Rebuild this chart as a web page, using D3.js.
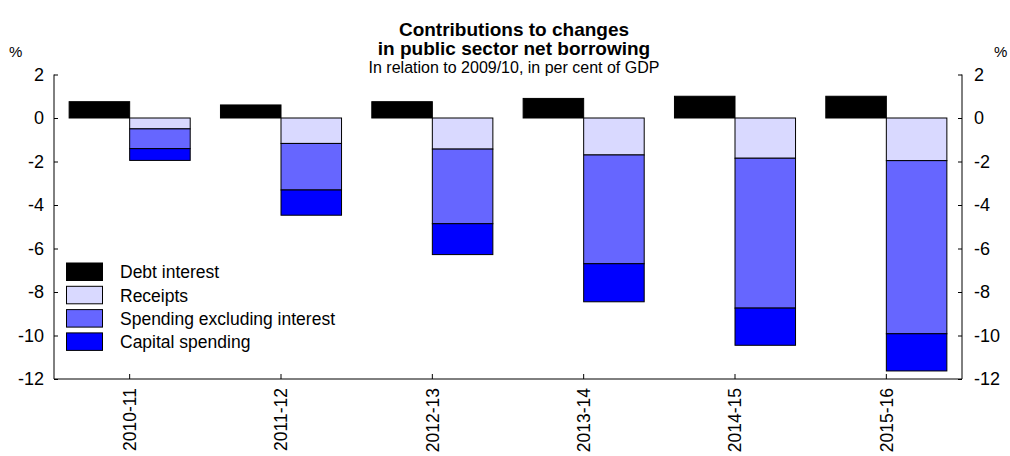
<!DOCTYPE html>
<html><head><meta charset="utf-8">
<script src="https://cdn.jsdelivr.net/npm/d3@7"></script>
<style>body{margin:0;background:#fff}svg{display:block;font-family:"Liberation Sans",Arial,sans-serif}</style>
</head><body><svg id="c" width="1010" height="456"></svg>
<script>
const categories = ["2010-11","2011-12","2012-13","2013-14","2014-15","2015-16"];
const debtInterest = [0.75, 0.6, 0.75, 0.9, 1.0, 1.0];
const receipts = [-0.5, -1.17, -1.43, -1.7, -1.85, -1.96];
const spendingExInterest = [-0.91, -2.14, -3.43, -5.0, -6.89, -7.96];
const capitalSpending = [-0.54, -1.16, -1.42, -1.75, -1.71, -1.71];
const yTicks = [2, 0, -2, -4, -6, -8, -10, -12];
const seriesNames = ["Debt interest","Receipts","Spending excluding interest","Capital spending"];
const colors = ["#000000","#d9d9ff","#6666ff","#0000ff"];

const svg = d3.select("#c");
const L = 54, R = 962, T = 74.5, B = 379;
const x = d3.scaleBand().domain(categories).range([L, R]).paddingInner(0).paddingOuter(0);
const y = d3.scaleLinear().domain([-12, 2]).range([B, T]);
const bw = x.bandwidth() * 0.4;

// Debt interest bars
svg.append("g").selectAll("rect").data(categories).join("rect")
  .attr("x", d => x(d) + x.bandwidth()/2 - bw)
  .attr("width", bw)
  .attr("y", (d,i) => y(Math.max(0, debtInterest[i])))
  .attr("height", (d,i) => Math.abs(y(debtInterest[i]) - y(0)))
  .attr("fill", colors[0]).attr("stroke", "#000").attr("stroke-width", 1);

// stacked negative bars
const stackSeries = [receipts, spendingExInterest, capitalSpending];
const sg = svg.append("g");
categories.forEach((c, i) => {
  let base = 0;
  stackSeries.forEach((s, k) => {
    const top = base, bot = base + s[i];
    sg.append("rect")
      .attr("x", x(c) + x.bandwidth()/2)
      .attr("width", bw)
      .attr("y", y(top))
      .attr("height", y(bot) - y(top))
      .attr("fill", colors[k+1]).attr("stroke", "#000").attr("stroke-width", 1);
    base = bot;
  });
});

// axes
const yl = svg.append("g").attr("transform", `translate(${L},0)`)
  .call(d3.axisRight(y).tickValues(yTicks).tickSize(4).tickFormat(""));
const yr = svg.append("g").attr("transform", `translate(${R},0)`)
  .call(d3.axisLeft(y).tickValues(yTicks).tickSize(4).tickFormat(""));
[yl, yr].forEach(g => { g.select(".domain").attr("d", `M0,${B}V${T}`).attr("stroke","#000"); g.selectAll(".tick line").attr("stroke","#000"); });

svg.append("g").selectAll("text.yl").data(yTicks).join("text")
  .attr("x", 44).attr("y", d => y(d)).attr("dy", "0.36em")
  .attr("text-anchor", "end").attr("font-size", 18).text(d => d);
svg.append("g").selectAll("text.yr").data(yTicks).join("text")
  .attr("x", 974).attr("y", d => y(d)).attr("dy", "0.36em")
  .attr("text-anchor", "start").attr("font-size", 18).text(d => d);
svg.append("text").attr("x", 9).attr("y", 57).attr("font-size", 15).text("%");
svg.append("text").attr("x", 994).attr("y", 57).attr("font-size", 15).text("%");

const xa = svg.append("g").attr("transform", `translate(0,${B})`)
  .call(d3.axisTop(x).tickSize(5).tickFormat(""));
xa.select(".domain").attr("d", `M${L},0H${R}`).attr("stroke","#000");
xa.selectAll(".tick line").attr("stroke","#000");
svg.append("g").selectAll("text").data(categories).join("text")
  .attr("transform", d => `translate(${x(d) + x.bandwidth()/2},388) rotate(-90)`)
  .attr("text-anchor", "end").attr("dy", "0.36em").attr("font-size", 17.5).text(d => d);

// titles
const cx = (L + R) / 2 + 6;
svg.append("text").attr("x", cx).attr("y", 36).attr("text-anchor","middle")
  .attr("font-size", 19).attr("font-weight","bold").text("Contributions to changes");
svg.append("text").attr("x", cx).attr("y", 55).attr("text-anchor","middle")
  .attr("font-size", 19).attr("font-weight","bold").text("in public sector net borrowing");
svg.append("text").attr("x", cx).attr("y", 73).attr("text-anchor","middle")
  .attr("font-size", 16).text("In relation to 2009/10, in per cent of GDP");

// legend
const lg = svg.append("g");
seriesNames.forEach((n, k) => {
  const yy = 263 + k * 23.3;
  lg.append("rect").attr("x", 66.5).attr("y", yy).attr("width", 36).attr("height", 17.5)
    .attr("fill", colors[k]).attr("stroke", "#000").attr("stroke-width", 1);
  lg.append("text").attr("x", 120).attr("y", yy + 9).attr("dy", "0.36em")
    .attr("font-size", 17.5).text(n);
});
</script></body></html>
